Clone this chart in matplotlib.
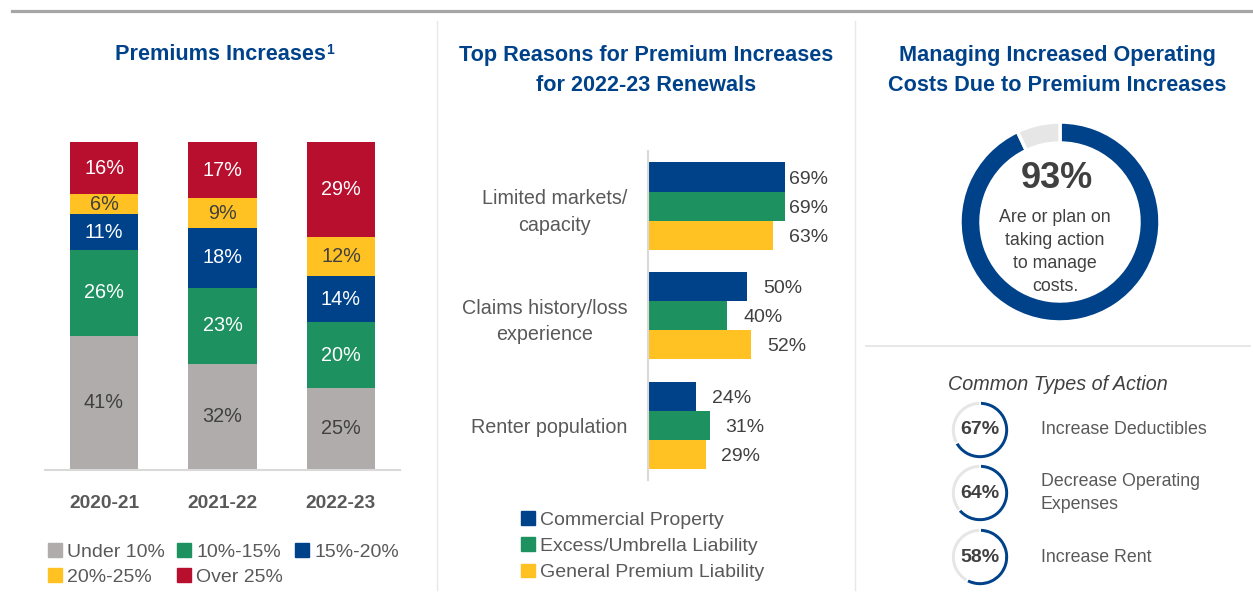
import matplotlib
matplotlib.use("Agg")
import matplotlib.pyplot as plt
import matplotlib.transforms as mtransforms
from matplotlib.lines import Line2D
from matplotlib.patches import Patch

#=============================================================================#
# Data #
#=============================================================================#
years = ["2020-21", "2021-22", "2022-23"]
bands = ["Under 10%", "10%-15%", "15%-20%", "20%-25%", "Over 25%"]
under_10 = [41, 32, 25]
p10_15 = [26, 23, 20]
p15_20 = [11, 18, 14]
p20_25 = [6, 9, 12]
over_25 = [16, 17, 29]

reasons = ["Limited markets/\ncapacity", "Claims history/loss\nexperience", "Renter population"]
lines_of_cover = ["Commercial Property", "Excess/Umbrella Liability", "General Premium Liability"]
commercial_property = [69, 50, 24]
excess_umbrella = [69, 40, 31]
general_liability = [63, 52, 29]

taking_action = 93
actions = ["Increase Deductibles", "Decrease Operating\nExpenses", "Increase Rent"]
action_share = [67, 64, 58]
#=============================================================================#

BLUE = "#00428A"
GREEN = "#1E9160"
YELLOW = "#FFC222"
RED = "#B80F2F"
GREY = "#B0ACAB"
DARK = "#404040"
MID = "#595959"
LIGHT = "#E6E6E6"

plt.rcParams["font.family"] = ["Liberation Sans", "DejaVu Sans"]

W, H = 1253, 607
fig = plt.figure(figsize=(W / 100, H / 100), dpi=100)
px = mtransforms.Affine2D().scale(1 / W, -1 / H).translate(0, 1) + fig.transFigure


def px_axes(x0, y0, x1, y1):
    # axes from pixel box, y measured from the top
    return fig.add_axes([x0 / W, 1 - y1 / H, (x1 - x0) / W, (y1 - y0) / H])


def hline(x0, x1, y, color, lw):
    fig.add_artist(Line2D([x0, x1], [y, y], transform=px, color=color, lw=lw))


def vline(x, y0, y1, color, lw):
    fig.add_artist(Line2D([x, x], [y0, y1], transform=px, color=color, lw=lw))


# frame lines
hline(12, W, 11, "#A6A6A6", 2.3)
vline(437, 21, 590, "#E8E8E8", 1)
vline(855, 21, 590, "#E8E8E8", 1)
hline(866, 1250, 346, "#E3E3E3", 1.2)

title_kw = dict(transform=px, ha="center", va="center", color=BLUE,
                fontsize=15.6, fontweight="bold", linespacing=1.6)
t1 = fig.text(220, 55, "Premiums Increases", **title_kw)
fig.canvas.draw()
bb = t1.get_window_extent()
fig.text(bb.x1 + 1, bb.y1 + 1, "1", transform=None, ha="left", va="top",
         color=BLUE, fontsize=10, fontweight="bold")
fig.text(646, 70.5, "Top Reasons for Premium Increases\nfor 2022-23 Renewals", **title_kw)
fig.text(1057, 70.5, "Managing Increased Operating\nCosts Due to Premium Increases", **title_kw)

#=============================================================================#
# Panel 1 : stacked bars #
#=============================================================================#
ax1 = px_axes(44.75, 142, 400.25, 470)
series = [under_10, p10_15, p15_20, p20_25, over_25]
colors = [GREY, GREEN, BLUE, YELLOW, RED]
txt_colors = [DARK, "white", "white", DARK, "white"]
totals = [sum(s[i] for s in series) for i in range(len(years))]
bottom = [0.0] * len(years)
for vals, c, tc in zip(series, colors, txt_colors):
    h = [v / t * 100 for v, t in zip(vals, totals)]
    ax1.bar(range(len(years)), h, bottom=bottom, width=0.574, color=c)
    for i, v in enumerate(vals):
        ax1.text(i, bottom[i] + h[i] / 2, f"{v}%", ha="center", va="center",
                 color=tc, fontsize=14.3)
    bottom = [b + hh for b, hh in zip(bottom, h)]
ax1.set_xlim(-0.5, 2.5)
ax1.set_ylim(0, 100)
ax1.set_xticks(range(len(years)), years, fontsize=13.8, fontweight="bold", color=MID)
ax1.tick_params(axis="x", length=0, pad=18)
ax1.set_yticks([])
for s in ["top", "left", "right"]:
    ax1.spines[s].set_visible(False)
ax1.spines["bottom"].set_color("#D9D9D9")
ax1.spines["bottom"].set_linewidth(1.5)

# legend fills column by column, so reorder to read row by row
order = [0, 3, 1, 4, 2]
handles = [Patch(color=colors[i]) for i in order]
fig.legend(handles, [bands[i] for i in order], loc="upper left",
           bbox_to_anchor=(48 / W, 1 - 543 / H),
           ncol=3, frameon=False, fontsize=14, handlelength=0.7, handleheight=0.7,
           handletextpad=0.3, columnspacing=0.6, labelspacing=0.4, borderpad=0,
           borderaxespad=0, labelcolor=MID)

#=============================================================================#
# Panel 2 : grouped horizontal bars #
#=============================================================================#
ax2 = px_axes(648, 151.25, 846.5, 480)
bh = 0.265
groups = [commercial_property, excess_umbrella, general_liability]
for k, (vals, c) in enumerate(zip(groups, [BLUE, GREEN, YELLOW])):
    ys = [i + (k - 1) * bh for i in range(len(reasons))]
    ax2.barh(ys, vals, height=bh, color=c)
    for y, v in zip(ys, vals):
        ax2.text(min(v + 8, 71), y + 0.02, f"{v}%", ha="left", va="center",
                 color=DARK, fontsize=14)
ax2.set_xlim(0, 100)
ax2.set_ylim(2.5, -0.5)
ax2.set_yticks(range(len(reasons)), reasons, fontsize=14.2, color=MID,
               multialignment="center")
for lbl in ax2.get_yticklabels():
    lbl.set_linespacing(1.5)
ax2.tick_params(axis="y", length=0, pad=15)
ax2.set_xticks([])
for s in ["top", "bottom", "right"]:
    ax2.spines[s].set_visible(False)
ax2.spines["left"].set_color("#D9D9D9")
ax2.spines["left"].set_linewidth(1.5)

handles = [Patch(color=c) for c in [BLUE, GREEN, YELLOW]]
fig.legend(handles, lines_of_cover, loc="upper left", bbox_to_anchor=(521 / W, 1 - 511 / H),
           ncol=1, frameon=False, fontsize=14, handlelength=0.7, handleheight=0.7,
           handletextpad=0.3, labelspacing=0.45, borderpad=0, borderaxespad=0,
           labelcolor=MID)

#=============================================================================#
# Panel 3 : donuts #
#=============================================================================#
ax3 = px_axes(960, 122, 1160, 322)
ax3.pie([taking_action, 100 - taking_action], colors=[BLUE, LIGHT], startangle=90,
        counterclock=False, wedgeprops=dict(width=0.21, edgecolor="white", linewidth=2.5))
ax3.set_xlim(-1, 1)
ax3.set_ylim(-1, 1)
ax3.axis("off")
fig.text(1057, 179, f"{taking_action}%", transform=px, ha="center", va="center",
         fontsize=26, fontweight="bold", color=DARK)
fig.text(1055, 252, "Are or plan on\ntaking action\nto manage\ncosts.", transform=px,
         ha="center", va="center", fontsize=12.8, color=DARK, linespacing=1.45)

fig.text(1058, 384, "Common Types of Action", transform=px, ha="center", va="center",
         fontsize=14.2, style="italic", color=DARK)

centers = [430, 493, 557]
for yc, share, label in zip(centers, action_share, actions):
    ax = px_axes(980 - 29, yc - 29, 980 + 29, yc + 29)
    ax.pie([share, 100 - share], colors=[BLUE, LIGHT], startangle=90, counterclock=False,
           wedgeprops=dict(width=0.16, edgecolor="white", linewidth=1.2))
    ax.set_xlim(-1, 1)
    ax.set_ylim(-1, 1)
    ax.axis("off")
    fig.text(980, yc, f"{share}%", transform=px, ha="center", va="center",
             fontsize=14, fontweight="bold", color=DARK)
    fig.text(1041, yc, label, transform=px, ha="left", va="center",
             fontsize=12.8, color=MID, linespacing=1.4)

fig.savefig("out.png", dpi=100, facecolor="white")
